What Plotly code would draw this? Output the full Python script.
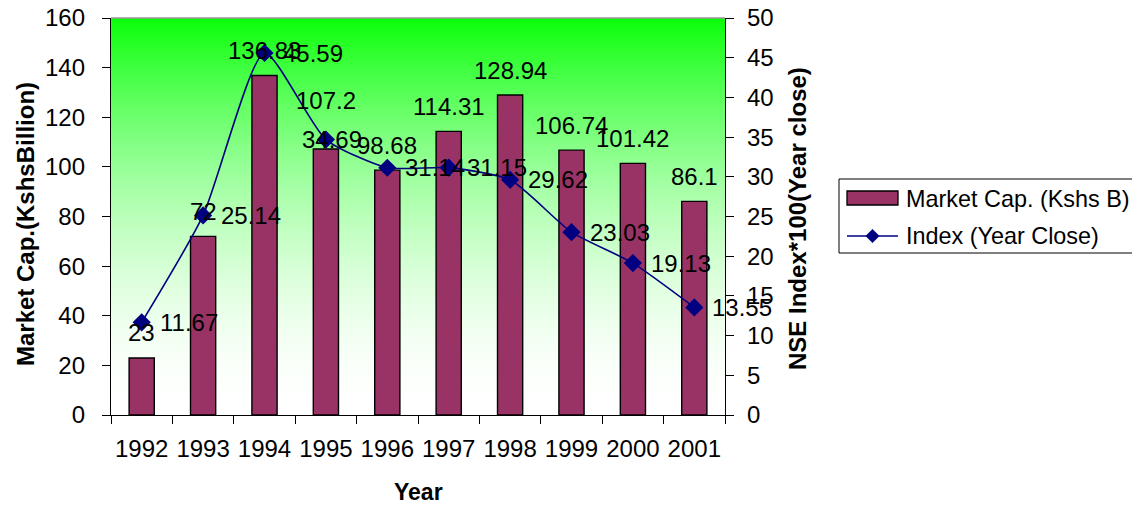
import plotly.graph_objects as go

years = ["1992", "1993", "1994", "1995", "1996", "1997", "1998", "1999", "2000", "2001"]
market_cap = [23, 72, 136.83, 107.2, 98.68, 114.31, 128.94, 106.74, 101.42, 86.1]
index_close = [11.67, 25.14, 45.59, 34.69, 31.14, 31.15, 29.62, 23.03, 19.13, 13.55]
left_ticks = [0, 20, 40, 60, 80, 100, 120, 140, 160]
right_ticks = [0, 5, 10, 15, 20, 25, 30, 35, 40, 45, 50]
bar_name = "Market Cap. (Kshs B)"
line_name = "Index (Year Close)"

FONT = "Arial, Liberation Sans, sans-serif"
BAR_COLOR = "#993366"
LINE_COLOR = "#000080"
FS = 24

# manual label nudges (as in reference)
bar_label_extra = {"1995": 24}
index_label_dx = {"1995": -42}

# page layout (page has 8px body margin)
W, H = 1132, 497
PL, PR, PT, PB = 111, 725, 18, 415   # plot area in page pixels
OFF = 8


def px(xp):
    return (xp - PL) / (PR - PL)


def py(yp):
    return (PB - yp) / (PB - PT)


fig = go.Figure()

# gradient background stripes
n = 120
top = (10, 255, 10)
bot = (255, 255, 255)
shapes = []
for i in range(n):
    f = (i + 0.5) / n
    g = f ** 1.8
    c = tuple(int(round(bot[k] + (top[k] - bot[k]) * g)) for k in range(3))
    shapes.append(dict(type="rect", xref="paper", yref="paper",
                       x0=0, x1=1, y0=i / n, y1=min(1, (i + 1) / n + 0.003),
                       fillcolor="rgb(%d,%d,%d)" % c, line=dict(width=0), layer="below"))
shapes.append(dict(type="line", xref="paper", yref="paper", x0=0, x1=1, y0=1, y1=1,
                   line=dict(color="#999999", width=1.5), layer="above"))

# custom legend (box, swatches)
shapes.append(dict(type="rect", xref="paper", yref="paper",
                   x0=px(839), x1=px(1150), y0=py(179), y1=py(253),
                   fillcolor="white", line=dict(color="black", width=1)))
shapes.append(dict(type="rect", xref="paper", yref="paper",
                   x0=px(847), x1=px(898), y0=py(191), y1=py(205),
                   fillcolor=BAR_COLOR, line=dict(color="black", width=1.3)))
shapes.append(dict(type="line", xref="paper", yref="paper",
                   x0=px(847), x1=px(898), y0=py(236), y1=py(236),
                   line=dict(color=LINE_COLOR, width=1.6)))
cx, cy, r = 872.5, 236, 7
shapes.append(dict(type="path", xref="paper", yref="paper",
                   path="M %f,%f L %f,%f L %f,%f L %f,%f Z" % (
                       px(cx - r), py(cy), px(cx), py(cy - r), px(cx + r), py(cy), px(cx), py(cy + r)),
                   fillcolor=LINE_COLOR, line=dict(color=LINE_COLOR, width=0)))

fig.add_trace(go.Bar(
    x=years, y=market_cap, name=bar_name,
    marker=dict(color=BAR_COLOR, line=dict(color="black", width=1.4)),
    width=0.41, yaxis="y", showlegend=False,
))
fig.add_trace(go.Scatter(
    x=years, y=index_close, name=line_name, yaxis="y2",
    mode="lines+markers", showlegend=False,
    line=dict(color=LINE_COLOR, width=1.6, shape="spline", smoothing=0.6),
    marker=dict(symbol="diamond", size=14, color=LINE_COLOR),
))

anns = []
for i, (yr, v) in enumerate(zip(years, market_cap)):
    anns.append(dict(x=i, y=v, xref="x", yref="y", text=f"{v:g}", showarrow=False,
                     yanchor="middle", xanchor="center", yshift=25 + bar_label_extra.get(yr, 0),
                     font=dict(family=FONT, size=FS, color="black")))
for i, (yr, v) in enumerate(zip(years, index_close)):
    anns.append(dict(x=i, y=v, xref="x", yref="y2", text=f"{v:g}", showarrow=False,
                     yanchor="middle", xanchor="left", xshift=16 + index_label_dx.get(yr, 0),
                     font=dict(family=FONT, size=FS, color="black")))
# axis titles
anns.append(dict(x=px(25), y=py(224), xref="paper", yref="paper",
                 text="<b>Market Cap.(KshsBillion)</b>",
                 textangle=-90, showarrow=False, xanchor="center", yanchor="middle",
                 font=dict(family=FONT, size=FS, color="black")))
anns.append(dict(x=px(797), y=py(219), xref="paper", yref="paper",
                 text="<b>NSE Index*100(Year close)</b>",
                 textangle=-90, showarrow=False, xanchor="center", yanchor="middle",
                 font=dict(family=FONT, size=FS, color="black")))
anns.append(dict(x=px(418), y=py(492), xref="paper", yref="paper", text="<b>Year</b>",
                 showarrow=False, xanchor="center", yanchor="middle",
                 font=dict(family=FONT, size=FS - 1, color="black")))
# legend texts
anns.append(dict(x=px(904), y=py(199), xref="paper", yref="paper", text=bar_name,
                 showarrow=False, xanchor="left", yanchor="middle",
                 font=dict(family=FONT, size=23.4, color="black")))
anns.append(dict(x=px(904), y=py(236), xref="paper", yref="paper", text=line_name,
                 showarrow=False, xanchor="left", yanchor="middle",
                 font=dict(family=FONT, size=23.4, color="black")))

fig.update_layout(
    width=W, height=H,
    margin=dict(l=PL - OFF, r=W - (PR - OFF), t=PT - OFF, b=H - (PB - OFF), pad=0,
                autoexpand=False),
    paper_bgcolor="white", plot_bgcolor="rgba(0,0,0,0)",
    font=dict(family=FONT, size=FS, color="black"),
    showlegend=False,
    annotations=anns,
    shapes=shapes,
    xaxis=dict(type="category", categoryorder="array", categoryarray=years,
               range=[-0.5, len(years) - 0.5], autorange=False,
               tickson="boundaries", ticks="outside", ticklen=8,
               tickcolor="black", showline=True, linecolor="black", linewidth=1.3,
               showgrid=False, tickfont=dict(family=FONT, size=FS, color="black"),
               ticklabelstandoff=12, zeroline=False, tickangle=0,
               ticklabeloverflow="allow"),
    yaxis=dict(range=[0, 160], tickvals=left_ticks, ticks="outside", ticklen=8,
               tickcolor="black", showline=True, linecolor="black", linewidth=1.3,
               showgrid=False, zeroline=False, tickfont=dict(family=FONT, size=FS, color="black"),
               ticklabelstandoff=12, ticklabeloverflow="allow"),
    yaxis2=dict(range=[0, 50], tickvals=right_ticks, overlaying="y", side="right",
                ticks="outside", ticklen=8, tickcolor="black", showline=True,
                linecolor="black", linewidth=1.3, showgrid=False, zeroline=False,
                tickfont=dict(family=FONT, size=FS, color="black"), ticklabelstandoff=8,
                ticklabeloverflow="allow"),
)

fig.write_html("out.html")
